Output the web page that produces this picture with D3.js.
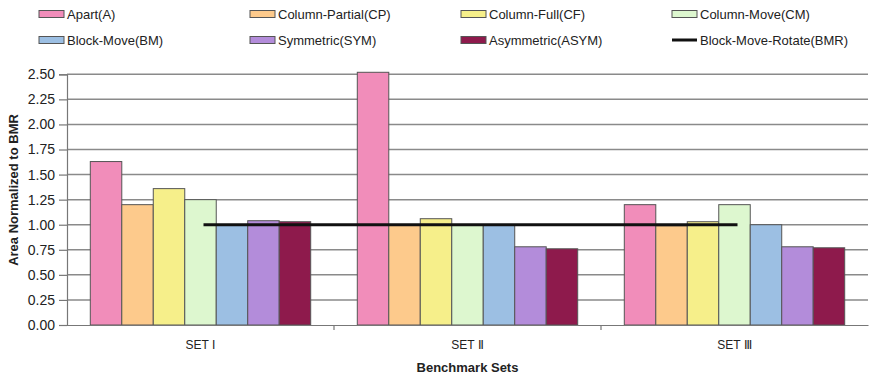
<!DOCTYPE html>
<html><head><meta charset="utf-8">
<script src="https://cdn.jsdelivr.net/npm/d3@7"></script>
<style>body{margin:0;background:#fff}svg{display:block;font-family:"Liberation Sans",Arial,sans-serif}</style>
</head><body><svg id="c" width="869" height="379"></svg>
<script>
const categories = ["SET I", "SET Ⅱ", "SET Ⅲ"];
const seriesNames = ["Apart(A)", "Column-Partial(CP)", "Column-Full(CF)", "Column-Move(CM)", "Block-Move(BM)", "Symmetric(SYM)", "Asymmetric(ASYM)"];
const apart = [1.63, 2.52, 1.20];
const columnPartial = [1.20, 1.00, 0.99];
const columnFull = [1.36, 1.06, 1.03];
const columnMove = [1.25, 1.00, 1.20];
const blockMove = [1.00, 1.00, 1.00];
const symmetric = [1.04, 0.78, 0.78];
const asymmetric = [1.03, 0.76, 0.77];
const bmr = [1.00, 1.00, 1.00];
const lineName = "Block-Move-Rotate(BMR)";
const yTicks = [0, 0.25, 0.5, 0.75, 1.0, 1.25, 1.5, 1.75, 2.0, 2.25, 2.5];
const colors = ["#F18DBA", "#FDCA8C", "#F6EF8A", "#DDF7CF", "#9CBFE3", "#B38CDA", "#8E1A4C"];

const barSeries = [apart, columnPartial, columnFull, columnMove, blockMove, symmetric, asymmetric];
const svg = d3.select("#c");
const m = {l: 67, r: 868, t: 74.3, b: 325};
const x0 = d3.scaleBand().domain(categories).range([m.l, m.r]).paddingInner(0).paddingOuter(0);
const x1 = d3.scaleBand().domain(seriesNames).range([0, x0.bandwidth()]).paddingInner(0).paddingOuter(0.74);
const y = d3.scaleLinear().domain([0, 2.5]).range([m.b, m.t]);

// gridlines
svg.append("g").selectAll("line").data(yTicks.slice(1)).join("line")
  .attr("x1", m.l).attr("x2", m.r).attr("y1", d => y(d)).attr("y2", d => y(d))
  .attr("stroke", "#8a8a8a").attr("stroke-width", 1.5);

// y axis
const ya = svg.append("g").attr("transform", `translate(${m.l},0)`)
  .call(d3.axisLeft(y).tickValues(yTicks).tickFormat(d3.format(".2f")).tickSize(8).tickPadding(4));
ya.select(".domain").attr("stroke", "#777").attr("stroke-width", 1.2);
ya.selectAll(".tick line").attr("stroke", "#777").attr("stroke-width", 1.2);
ya.selectAll("text").attr("font-size", 14).attr("fill", "#222").attr("font-family", "Liberation Sans, Arial, sans-serif");

// bars
categories.forEach((c, ci) => {
  svg.append("g").selectAll("rect").data(seriesNames).join("rect")
    .attr("x", s => x0(c) + x1(s)).attr("width", x1.bandwidth())
    .attr("y", (s, si) => y(barSeries[si][ci]))
    .attr("height", (s, si) => y(0) - y(barSeries[si][ci]))
    .attr("fill", (s, si) => colors[si]).attr("stroke", "#555").attr("stroke-width", 1);
});

// x axis
const xa = svg.append("g").attr("transform", `translate(0,${m.b})`)
  .call(d3.axisBottom(x0).tickSize(0).tickPadding(15));
xa.select(".domain").attr("stroke", "#777").attr("stroke-width", 1.2);
xa.selectAll("text").attr("font-size", 12).attr("fill", "#222").attr("font-family", "Liberation Sans, Arial, sans-serif");
svg.append("g").selectAll("line").data(categories.slice(1)).join("line")
  .attr("x1", c => x0(c)).attr("x2", c => x0(c)).attr("y1", m.b).attr("y2", m.b + 5)
  .attr("stroke", "#777").attr("stroke-width", 1.2);

// BMR line
svg.append("path").datum(bmr)
  .attr("d", d3.line().x((d, i) => x0(categories[i]) + x0.bandwidth() / 2 + 3).y(d => y(d)))
  .attr("fill", "none").attr("stroke", "#111").attr("stroke-width", 3);

// axis titles
svg.append("text").attr("transform", "translate(18,190) rotate(-90)").attr("text-anchor", "middle")
  .attr("font-size", 13).attr("font-weight", "bold").attr("fill", "#222").text("Area Normalized to BMR");
svg.append("text").attr("x", (m.l + m.r) / 2).attr("y", 372).attr("text-anchor", "middle")
  .attr("font-size", 13).attr("font-weight", "bold").attr("fill", "#222").text("Benchmark Sets");

// legend
const legendItems = seriesNames.map((s, i) => ({name: s, color: colors[i], type: "bar"}))
  .concat([{name: lineName, color: "#111", type: "line"}]);
const lg = svg.append("g").selectAll("g").data(legendItems).join("g")
  .attr("transform", (d, i) => `translate(${39 + (i % 4) * 211},${i < 4 ? 14 : 40})`);
lg.filter(d => d.type === "bar").append("rect").attr("x", 0).attr("y", -3.5).attr("width", 25).attr("height", 7)
  .attr("fill", d => d.color).attr("stroke", "#555").attr("stroke-width", 1);
lg.filter(d => d.type === "line").append("line").attr("x1", 0).attr("x2", 25).attr("y1", 0).attr("y2", 0)
  .attr("stroke", "#111").attr("stroke-width", 3);
lg.append("text").attr("x", 28).attr("y", 0).attr("dy", "0.35em").attr("font-size", 13).attr("fill", "#222").text(d => d.name);
</script></body></html>
